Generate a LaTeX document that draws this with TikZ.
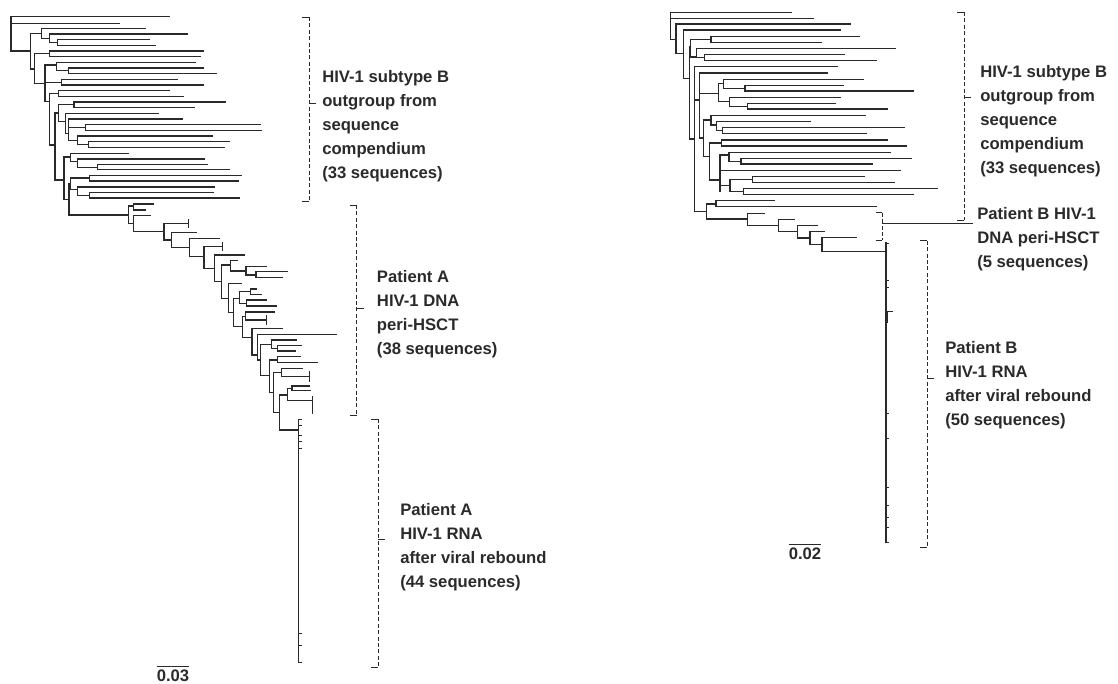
\documentclass[tikz,border=0pt]{standalone}
\usepackage{fontspec}
\setmainfont{Liberation Sans}
\usetikzlibrary{positioning}
\definecolor{treeink}{HTML}{2B2A29}
\tikzset{
  branch/.style={draw=treeink, line width=0.9pt, line cap=rect},
  bracket/.style={draw=treeink, line width=0.75pt, dash pattern=on 3pt off 1.8pt},
  capline/.style={draw=treeink, line width=0.75pt},
  lbl/.style={anchor=west, align=left, inner sep=0pt, text=treeink,
    font=\bfseries\fontsize{12.5}{18}\selectfont},
}
\begin{document}
\begin{tikzpicture}[x=0.75pt, y=-0.75pt]
  \useasboundingbox (0,0) rectangle (1118,683);

  % left tree, outgroup: verticals x/top/bottom
  \foreach \x/\a/\b in {
    11/16.7/51, 30.7/33.3/69, 41.7/28.3/38.3, 49.3/34/42.7, 57.7/39.7/45.3,
    34.3/53.3/83.3, 49.3/51/56.7, 45/65/101.7, 56.7/62.3/70.7, 68.3/68/73.3,
    61.7/79.3/85, 49.3/93.5/145, 58.3/90.7/96.3, 55/113/180, 58.3/104.8/121.7,
    74/102/107.7, 65.7/113.3/133.3, 68.3/119/140.2, 85.7/124.7/130.3,
    77.7/136/144.5, 88.3/141.7/147.3, 64/157/199.5, 70.7/153.3/161.7,
    77.7/159/167.2, 97.7/164.7/169.7, 69/183.9/215, 70.7/178/189.8,
    89.3/175.3/181, 77.7/187/195.3, 89.3/192.7/198}
    \draw[branch] (\x,\a) -- (\x,\b);
  % left tree, outgroup: branches y/from/to
  \foreach \y/\a/\b in {
    51/11/30.7, 33.3/30.7/41.7, 69/30.7/34.3, 38.3/41.7/49.3, 42.7/49.3/57.7,
    53.3/34.3/49.3, 83.3/34.3/45, 65/45/56.7, 70.7/56.7/68.3, 82.2/45/61.7,
    101.7/45/49.3, 93.5/49.3/58.3, 145/49.3/55, 113/55/58.3, 104.8/58.3/74,
    121.7/58.3/65.7, 133.3/65.7/68.3, 127.5/68.3/85.7, 140.2/68.3/77.7,
    144.5/77.7/88.3, 180/55/64, 157/64/70.7, 161.7/70.7/77.7, 167.2/77.7/97.7,
    199.5/64/69, 183.9/69/70.7, 178/70.7/89.3, 189.8/70.7/77.7,
    195.3/77.7/89.3, 215/69/128.3,
    16.7/11/169.3, 23.3/11/119, 28.3/41.7/145.3, 34/49.3/187.3,
    39.7/57.7/149.3, 45.3/57.7/155.7, 51/49.3/203.7, 56.7/49.3/200,
    62.3/56.7/195.3, 68/68.3/203.3, 73.3/68.3/216, 79.3/61.7/177.7,
    85/61.7/203.7, 90.7/58.3/169.3, 96.3/58.3/183, 102/74/225,
    107.7/74/194.7, 113.3/65.7/158.3, 119/68.3/182.3, 124.7/85.7/260.3,
    130.3/85.7/261.7, 136/77.7/212.7, 141.7/88.3/229, 147.3/88.3/224.7,
    153.3/70.7/128.3, 159/77.7/204.7, 164.7/97.7/207, 169.7/97.7/229.7,
    175.3/89.3/241.3, 181/89.3/238.7, 187/77.7/214.3, 192.7/89.3/213.7,
    198/89.3/239.7}
    \draw[branch] (\a,\y) -- (\b,\y);

  % patient A, DNA peri-HSCT
  \foreach \x/\a/\b in {
    128.3/206/223.7, 133.3/204/210, 133.3/215.7/231.7, 164/223.3/240,
    171.7/232.3/247.3, 189.3/238.3/256.7, 204/246.7/268.3, 214.3/255/281.7,
    221.3/265/298.3, 230.7/260.7/271, 246/266.7/275, 256/271.7/277.7,
    228.3/283.3/312.5, 233.3/298.3/326.7, 239.3/291.7/303.3, 250.7/289/294.7,
    246.7/300/306, 242.7/316.7/337.7, 245.7/312/320, 252/328.7/355,
    257.7/334.3/360, 260.7/344.3/375.7, 271.7/340/348.3, 277.7/345.7/351,
    269.3/360/392.3, 277.3/356.7/362.7, 273.3/372.7/412.7, 281.7/368.3/376.7,
    279.3/395/430, 287.3/388.3/400.7, 292/386/390.7,
    188.3/220/227, 222.7/243/250.5, 266.7/316/324, 309.3/372/381,
    312.7/396.7/413.3}
    \draw[branch] (\x,\a) -- (\x,\b);
  \foreach \y/\a/\b in {
    206/128.3/133.3, 223.7/128.3/133.3, 231.7/133.3/164, 240/164/171.7,
    247.3/171.7/189.3, 256.7/189.3/204, 268.3/204/214.3, 281.7/214.3/221.3,
    265/221.3/230.7, 271/230.7/246, 275/246/256, 298.3/221.3/228.3,
    312.5/228.3/233.3, 298.3/233.3/239.3, 291.7/239.3/250.7,
    303.3/239.3/246.7, 326.7/233.3/242.7, 316.7/242.7/245.7,
    337.7/242.7/252, 355/252/257.7, 360/257.7/260.7, 344.3/260.7/271.7,
    348.3/271.7/277.7, 375.7/260.7/269.3, 360/269.3/277.3,
    392.3/269.3/273.3, 372.7/273.3/281.7, 412.7/273.3/279.3,
    395/279.3/287.3, 388.3/287.3/292, 430/279.3/298.3,
    204/133.3/153.7, 210/133.3/145.7, 215.7/133.3/150.7, 223.3/164/188.3,
    232.3/171.7/196.7, 238.3/189.3/219.3, 246.7/204/222.7, 255/214.3/244.7,
    260.7/230.7/237.3, 266.7/246/266.7, 271.7/256/287.3, 277.7/256/282,
    283.3/228.3/241.3, 289/250.7/256, 294.7/250.7/261.7, 300/246.7/266,
    306/246.7/276.7, 312/245.7/274, 320/245.7/266.7, 328.7/252/282.7,
    334.3/257.7/336.7, 340/271.7/296.7, 345.7/277.7/301.7, 351/277.7/295,
    356.7/277.3/300.7, 362.7/277.3/317.3, 368.3/281.7/302.7,
    376.7/281.7/309.3, 386/292/309.3, 390.7/292/310, 400.7/287.3/312.7}
    \draw[branch] (\a,\y) -- (\b,\y);

  % patient A, RNA after rebound
  \draw[branch] (298.3,419.3) -- (298.3,662.7);
  \foreach \y in {419.3, 425, 435, 441.7, 448.3, 633, 645, 662.7}
    \draw[capline] (298.3,\y) -- (301.5,\y);

  % right tree, outgroup
  \foreach \x/\a/\b in {
    670.7/12.7/39.3, 676/24/53.3, 683.3/30/78.3, 689.3/46.7/139,
    690.7/39.7/57, 711/36.7/42.7, 696.7/48.7/57.7, 704.3/54.7/60.7,
    694.3/66.7/211.5, 699.3/73/138, 718.3/83.3/101.7, 723.3/79.3/88.2,
    745/85.3/91, 729.3/97.3/106.3, 747.7/103.7/109, 703.3/120/156.7,
    711/115.3/125, 716.7/121.7/130.5, 722.3/127.3/133.7, 709.3/143/180,
    721.7/140/146, 720/155/191.7, 729/152.3/161.2, 741/158.3/164,
    730/179.5/191.5, 752.3/176.7/182.3, 743.3/188.7/194.3,
    706.7/204/219, 716/200.7/206.7}
    \draw[branch] (\x,\a) -- (\x,\b);
  \foreach \y/\a/\b in {
    39.3/670.7/676, 53.3/676/683.3, 78.3/683.3/689.3, 46.7/689.3/690.7,
    139/689.3/694.3, 39.7/690.7/711, 57/690.7/696.7, 57.7/696.7/704.3,
    100/694.3/699.3, 211.5/694.3/706.7, 93.3/699.3/718.3, 83.3/718.3/723.3,
    88.2/723.3/745, 101.7/718.3/729.3, 106.3/729.3/747.7, 138/699.3/703.3,
    120/703.3/711, 125/711/716.7, 130.5/716.7/722.3, 156.7/703.3/709.3,
    143/709.3/721.7, 180/709.3/720, 155/720/729, 161.2/729/741,
    185.5/720/730, 179.5/730/752.3, 191.5/730/743.3, 204/706.7/716,
    12.7/670.7/791.7, 18.3/670.7/813.3, 24/676/850.7, 30/683.3/840.7,
    36.7/711/859.3, 42.7/711/821.7, 48.7/696.7/895.3, 54.7/704.3/844,
    60.7/704.3/876.7, 66.7/694.3/837.3, 73/699.3/827.3, 79.3/723.3/863.7,
    85.3/745/843.3, 91/745/913, 97.3/729.3/840.7, 103.7/747.7/835.3,
    109/747.7/887, 115.3/711/865.7, 121.7/716.7/810, 127.3/722.3/904.3,
    133.7/722.3/866.7, 140/721.7/887.3, 146/721.7/906.7, 152.3/729/890.7,
    158.3/741/911, 164/741/872.3, 170.3/720/900.7, 176.7/752.3/864.7,
    182.3/752.3/894.7, 188.7/743.3/937.7, 194.3/743.3/913.3,
    200.7/716/774, 206.7/716/876}
    \draw[branch] (\a,\y) -- (\b,\y);

  % patient B, DNA peri-HSCT and RNA after rebound
  \foreach \x/\a/\b in {
    747.3/213.3/225.5, 778.3/219.3/231.7, 797.3/225.3/238, 810/231.3/244.5,
    822/237.3/251.7, 886/243/542, 887/311.7/322.7}
    \draw[branch] (\x,\a) -- (\x,\b);
  \foreach \y/\a/\b in {
    219/706.7/747.3, 225.5/747.3/778.3, 231.7/778.3/797.3, 238/797.3/810,
    244.5/810/822, 251.7/822/886,
    213.3/747.3/764, 219.3/778.3/794, 225.3/797.3/817.3, 231.3/810/824.7,
    237.3/822/856.7}
    \draw[branch] (\a,\y) -- (\b,\y);
  \foreach \y in {243, 280, 287, 413, 438, 487, 505, 517, 527, 542}
    \draw[capline] (886,\y) -- (889,\y);
  \draw[capline] (886,311.7) -- (892.7,311.7);

  % brackets x/top/bottom/tick
  \foreach \x/\a/\b/\m in {309/17/201/103, 356.7/205/415/308.3, 378/419/667/539,
                           964/12/220/97, 927/240.7/547/378} {
    \draw[bracket] (\x,\a) -- (\x,\b);
    \draw[capline] (\x-7,\a) -- (\x,\a) (\x-7,\b) -- (\x,\b) (\x,\m) -- (\x+7,\m);
  }
  \draw[bracket] (882,212.7) -- (882,240);
  \draw[capline] (875.5,212.7) -- (882,212.7) (875.5,240) -- (882,240);
  \coordinate (dnaBtip) at (973,223.3);
  \draw[capline] (882,223.3) -- (dnaBtip);

  % labels
  \node[lbl] (outA) at (322,126) {HIV-1 subtype B\\outgroup from\\sequence\\compendium\\(33 sequences)};
  \node[lbl] (dnaA) at (376.7,314) {Patient A\\HIV-1 DNA\\peri-HSCT\\(38 sequences)};
  \node[lbl] (rnaA) at (400,547) {Patient A\\HIV-1 RNA\\after viral rebound\\(44 sequences)};
  \node[lbl] (outB) at (980,121) {HIV-1 subtype B\\outgroup from\\sequence\\compendium\\(33 sequences)};
  \node[lbl] (dnaB) at (977,239) {Patient B HIV-1\\DNA peri-HSCT\\(5 sequences)};
  \node[lbl] (rnaB) at (945,385) {Patient B\\HIV-1 RNA\\after viral rebound\\(50 sequences)};

  % scale bars
  \node[lbl, anchor=center] (scaleA) at (173,676) {0.03};
  \draw[capline] ([yshift=2.5pt]scaleA.north west) -- ([yshift=2.5pt]scaleA.north east);
  \node[lbl, anchor=center] (scaleB) at (805,554) {0.02};
  \draw[capline] ([yshift=2.5pt]scaleB.north west) -- ([yshift=2.5pt]scaleB.north east);
\end{tikzpicture}
\end{document}
